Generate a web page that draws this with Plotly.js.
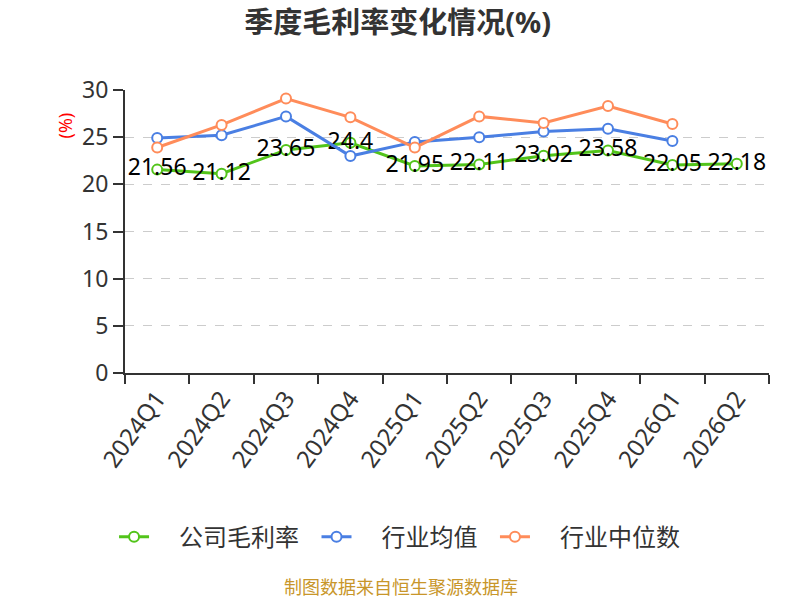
<!DOCTYPE html>
<html>
<head>
<meta charset="utf-8">
<script src="https://cdn.plot.ly/plotly-3.0.1.min.js"></script>
<style>
  html, body { margin: 0; padding: 0; background: #fff; }
  #chart { width: 800px; height: 600px; }
</style>
</head>
<body>
<div id="chart"></div>
<script>
// 季度标签与三组数据
const quarters = ['2024Q1', '2024Q2', '2024Q3', '2024Q4', '2025Q1', '2025Q2', '2025Q3', '2025Q4', '2026Q1', '2026Q2'];
const companyMargin = [21.56, 21.12, 23.65, 24.4, 21.95, 22.11, 23.02, 23.58, 22.05, 22.18];
const industryAvg = [24.9, 25.2, 27.2, 23.0, 24.5, 25.0, 25.6, 25.9, 24.6, null];
const industryMedian = [23.9, 26.3, 29.1, 27.1, 23.9, 27.2, 26.5, 28.3, 26.4, null];
const yTicks = [0, 5, 10, 15, 20, 25, 30];

const FONT = 'Noto Sans, Noto Sans CJK SC, sans-serif';
// 图例文字前后留白
const LEAD_PAD = '\u00a0'.repeat(4);
const TRAIL_PAD = '\u00a0'.repeat(2);

function lineTrace(name, values, color, withLabels) {
    const trace = {
        x: quarters,
        y: values,
        name: LEAD_PAD + name + TRAIL_PAD,
        type: 'scatter',
        mode: withLabels ? 'lines+markers+text' : 'lines+markers',
        line: { color: color, width: 3 },
        marker: {
            color: '#ffffff',
            size: 10,
            symbol: 'circle',
            line: { color: color, width: 2 },
        },
        hoverinfo: 'x+y',
    };
    if (withLabels) {
        trace.text = values.map(v => String(v));
        trace.textposition = 'middle center';
        trace.textfont = { color: '#000000', size: 23, family: FONT };
    }
    return trace;
}

const traces = [
    lineTrace('公司毛利率', companyMargin, '#52c41a', true),
    lineTrace('行业均值', industryAvg, '#4a7fe3', false),
    lineTrace('行业中位数', industryMedian, '#ff8c5a', false),
];

const layout = {
    width: 800,
    height: 600,
    paper_bgcolor: '#ffffff',
    plot_bgcolor: '#ffffff',
    font: { family: FONT, color: '#333333', size: 20 },
    margin: { l: 125, r: 31, t: 90, b: 227 },
    title: {
        text: '<b>季度毛利率变化情况(%)</b>',
        font: { size: 29, color: '#333333', family: FONT },
        x: 0.497,
        xanchor: 'center',
        y: 0.962,
        yanchor: 'middle',
    },
    xaxis: {
        type: 'category',
        tickangle: -54,
        tickson: 'boundaries',
        ticks: 'outside',
        ticklen: 9,
        tickwidth: 2,
        tickcolor: '#333333',
        showline: true,
        linecolor: '#333333',
        linewidth: 2,
        showgrid: false,
        tickfont: { size: 24, color: '#333333' },
        range: [-0.5, 9.5],
    },
    yaxis: {
        range: [0, 30],
        tickvals: yTicks,
        ticks: 'outside',
        ticklen: 10,
        tickwidth: 2,
        tickcolor: '#333333',
        showline: true,
        linecolor: '#333333',
        linewidth: 2,
        gridcolor: '#cccccc',
        griddash: 'dash',
        gridwidth: 1,
        zeroline: false,
        tickfont: { size: 23, color: '#333333' },
    },
    showlegend: true,
    legend: {
        orientation: 'h',
        x: -0.017,
        xanchor: 'left',
        y: -0.58,
        yanchor: 'middle',
        font: { size: 24, color: '#333333' },
        itemwidth: 30,
    },
    annotations: [
        {
            text: '(%)',
            xref: 'paper', yref: 'paper',
            x: -0.093, y: 0.875,
            xanchor: 'center', yanchor: 'middle',
            textangle: -90,
            showarrow: false,
            font: { size: 18, color: '#ff0000' },
        },
        {
            text: '制图数据来自恒生聚源数据库',
            xref: 'paper', yref: 'paper',
            x: 0.4286, y: -0.757,
            xanchor: 'center', yanchor: 'middle',
            showarrow: false,
            font: { size: 18, color: '#c8962a' },
        },
    ],
};

Plotly.newPlot('chart', traces, layout, { displayModeBar: false });
</script>
</body>
</html>
